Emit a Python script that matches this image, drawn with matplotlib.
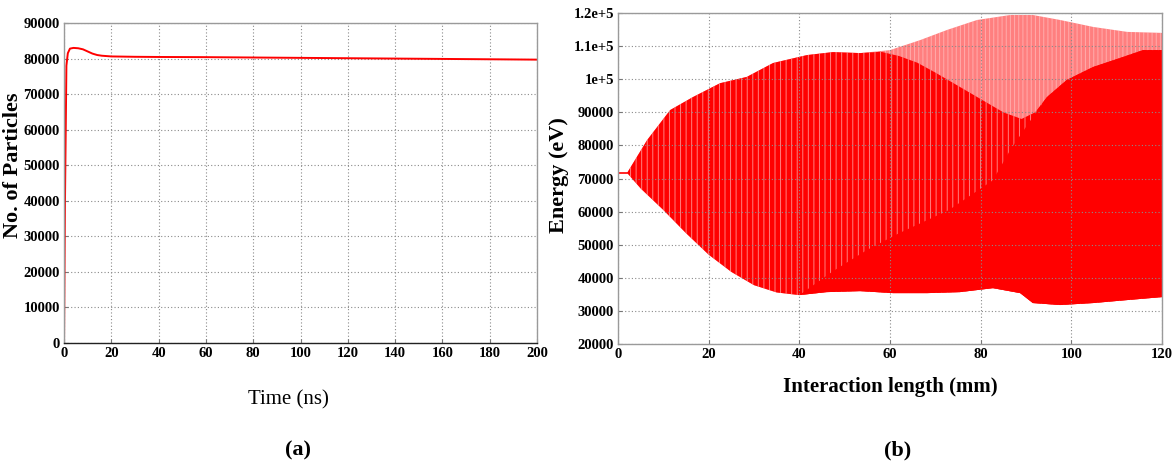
import matplotlib
matplotlib.use("Agg")  # рисуем без дисплея
import matplotlib.pyplot as plt  # основной модуль построения графиков

plt.rcParams["font.family"] = ["Liberation Serif", "DejaVu Serif"]  # шрифт с засечками для всех подписей
plt.rcParams["hatch.linewidth"] = 0.7  # толщина штриховки продольных полос

# --- (a) число частиц во времени ---
time_ns = [0, 0.4, 1.0, 1.6, 2.5, 4, 6, 8, 10, 12, 14, 16, 18, 20, 30, 40, 60, 80, 100, 120, 140, 160, 180, 200]
particles = [0, 40000, 78000, 81500, 82800, 83000, 82900, 82600, 82000, 81400, 81000, 80800, 80700, 80600,
             80500, 80450, 80400, 80300, 80200, 80100, 80000, 79900, 79800, 79700]
time_ticks = [0, 20, 40, 60, 80, 100, 120, 140, 160, 180, 200]
particle_ticks = [0, 10000, 20000, 30000, 40000, 50000, 60000, 70000, 80000, 90000]

# --- (b) энергия электронов вдоль длины взаимодействия ---
# начальный пучок до входа в область взаимодействия
beam_len = [0.0, 2.0]
beam_energy = [71700, 71700]
# внешняя (разреженная) верхняя граница
outer_len = [2.0, 6.4, 11.5, 16.5, 22.5, 28.4, 34.2, 41.7, 47.4, 53.4, 60.0, 66.6, 72.6, 79.2, 86.5, 91.5,
             97.5, 104.8, 112.3, 120.0]
outer_energy = [71700, 81600, 90700, 94600, 98800, 100700, 104900, 107300, 108200, 107900, 108800, 111800,
                114900, 117900, 119400, 119400, 117900, 115800, 114300, 114000]
# плотная верхняя граница осциллирующих частиц
dense_len = [2.0, 6.4, 11.5, 16.5, 22.5, 28.4, 34.2, 41.7, 47.4, 53.4, 58.0, 62.0, 66.0, 70.0, 75.0, 80.0,
             85.0, 89.0, 92.0, 94.6, 99.0, 104.8, 110.7, 115.8, 120.0]
dense_energy = [71700, 81600, 90700, 94600, 98800, 100700, 104900, 107300, 108200, 107900, 108300, 107000,
                105000, 102000, 98000, 94000, 90000, 88000, 90000, 94600, 99800, 103700, 106400, 108800, 108800]
# нижняя граница всего распределения
lower_len = [2.0, 5.0, 10.0, 15.0, 20.0, 25.0, 30.0, 35.0, 40.0, 46.0, 53.4, 60.7, 68.2, 75.4, 82.7, 88.7,
             91.5, 97.5, 104.8, 112.3, 120.0]
lower_energy = [71700, 67000, 60500, 53500, 47000, 41800, 37800, 35600, 34800, 35700, 36000, 35400, 35400,
                35700, 36900, 35400, 32400, 31800, 32400, 33300, 34200]
# верхняя граница сплошной (захваченной) области
trapped_len = [40.0, 47.4, 55.0, 62.0, 73.0, 82.7, 86.5, 91.5, 94.6, 99.0, 104.8, 110.7, 115.8, 120.0]
trapped_energy = [34800, 42000, 48500, 53500, 60500, 69500, 78600, 88600, 94600, 99800, 103700,
                  106400, 108800, 108800]
length_ticks = [0, 20, 40, 60, 80, 100, 120]
energy_ticks = [20000, 30000, 40000, 50000, 60000, 70000, 80000, 90000, 100000, 110000, 120000]
energy_labels = ["20000", "30000", "40000", "50000", "60000", "70000", "80000", "90000", "1e+5", "1.1e+5", "1.2e+5"]

TICK_SIZE = 10.5  # размер подписей делений
GRID_STYLE = {"color": "#8a8a8a", "linestyle": (0, (1, 2)), "linewidth": 0.8}  # пунктирная сетка


def style_axes(ax, bottom_color):  # общее оформление рамки, сетки и делений
    for side in ("left", "top", "right"):
        ax.spines[side].set_color("#9a9a9a")
        ax.spines[side].set_linewidth(1.0)
    ax.spines["bottom"].set_color(bottom_color)
    ax.spines["bottom"].set_linewidth(1.0)
    ax.grid(True, **GRID_STYLE)
    ax.tick_params(direction="in", length=3, color="#777777", pad=3)
    for lab in ax.get_xticklabels() + ax.get_yticklabels():
        lab.set_fontsize(TICK_SIZE)
        lab.set_fontweight("bold")


def polygon(upper_x, upper_y, low_x, low_y, start):  # замкнутый контур между верхней и нижней границей
    lx = [x for x in low_x if x >= start]
    ly = [y for x, y in zip(low_x, low_y) if x >= start]
    return list(upper_x) + lx[::-1], list(upper_y) + ly[::-1]


fig = plt.figure(figsize=(11.75, 4.65), dpi=100, facecolor="white")  # фигура 1175x465 пикселей

# левая панель: число частиц
ax1 = fig.add_axes([0.0545, 0.2624, 0.4025, 0.6881])
ax1.plot(time_ns, particles, color="#ff0000", linewidth=1.4)  # кривая числа частиц
ax1.set_xlim(0, 200)
ax1.set_ylim(0, 90000)
ax1.set_xticks(time_ticks)
ax1.set_yticks(particle_ticks)
style_axes(ax1, "#222222")
ax1.set_xlabel("Time (ns)", fontsize=15)
ax1.xaxis.set_label_coords(0.474, -0.147)
ax1.set_ylabel("No. of Particles", fontsize=16, fontweight="bold")
ax1.yaxis.set_label_coords(-0.086, 0.556)

# правая панель: фазовое распределение энергии
ax2 = fig.add_axes([0.526, 0.260, 0.463, 0.712])
px, py = polygon(outer_len, outer_energy, lower_len, lower_energy, 0)
ax2.fill(px, py, facecolor=(1, 0, 0, 0.5), edgecolor=(1, 1, 1, 0.35), hatch="||||", linewidth=0)  # разреженная часть
px, py = polygon(dense_len, dense_energy, lower_len, lower_energy, 0)
ax2.fill(px, py, facecolor="#ff0000", edgecolor=(1, 1, 1, 0.5), hatch="|||", linewidth=0)  # осциллирующие частицы
px, py = polygon(trapped_len, trapped_energy, lower_len, lower_energy, trapped_len[0])
ax2.fill(px, py, color="#ff0000", linewidth=0)  # сплошная захваченная область
ax2.plot(beam_len, beam_energy, color="#ff0000", linewidth=1.2)  # входной моноэнергетический пучок
ax2.set_xlim(0, 120)
ax2.set_ylim(20000, 120000)
ax2.set_xticks(length_ticks)
ax2.set_yticks(energy_ticks)
ax2.set_yticklabels(energy_labels)
style_axes(ax2, "#9a9a9a")
ax2.set_xlabel("Interaction length (mm)", fontsize=15, fontweight="bold")
ax2.xaxis.set_label_coords(0.50, -0.10)
ax2.set_ylabel("Energy (eV)", fontsize=16, fontweight="bold")
ax2.yaxis.set_label_coords(-0.09, 0.51)

# подписи панелей
fig.text(0.2536, 0.032, "(a)", fontsize=16, fontweight="bold", ha="center", va="center")
fig.text(0.764, 0.032, "(b)", fontsize=16, fontweight="bold", ha="center", va="center")

fig.savefig("out.png", dpi=100, facecolor="white")  # сохраняем рисунок
plt.close(fig)
